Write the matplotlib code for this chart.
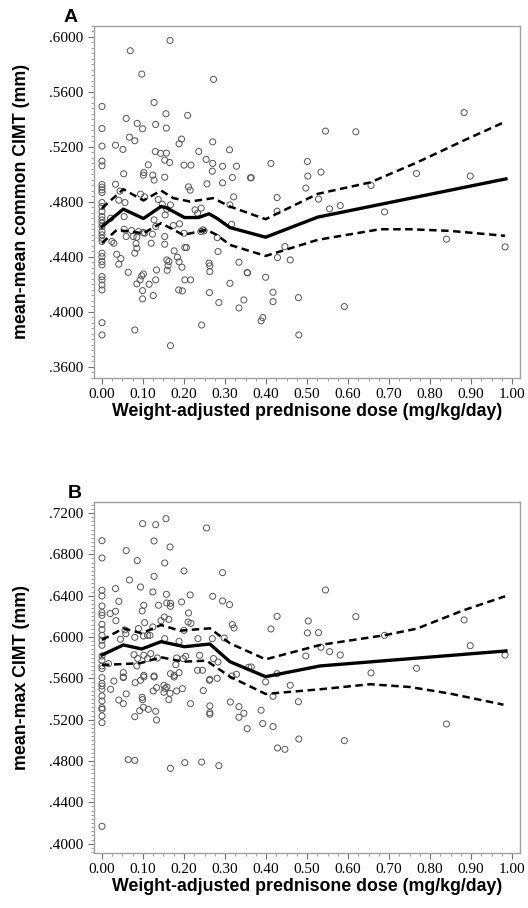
import numpy as np
import matplotlib
matplotlib.use('Agg')
import matplotlib.pyplot as plt
from matplotlib.ticker import FuncFormatter, AutoMinorLocator, MultipleLocator

# Panel A: mean-mean common CIMT, punkty (dawka, CIMT)
a_x = [0.883, 0.545, 0.619, 0.412, 0.501, 0.364, 0.534, 0.502, 0.767, 0.898,
       0.497, 0.427, 0.528, 0.656, 0.427, 0.555, 0.581, 0.689, 0.840, 0.983,
       0.446, 0.428, 0.459, 0.355, 0.399, 0.417, 0.417, 0.479, 0.591, 0.392,
       0.388, 0.480,
       0.166, 0.069, 0.097, 0.272, 0.0, 0.127, 0.059, 0.156, 0.209, 0.086,
       0.099, 0.131, 0.157, 0.0, 0.0, 0.033, 0.051, 0.067, 0.080, 0.188,
       0.194, 0.270, 0.130, 0.143, 0.157, 0.153, 0.165, 0.113, 0.200, 0.217,
       0.236, 0.254, 0.270, 0.269, 0.294, 0.311, 0.328, 0.0, 0.0, 0.053,
       0.102, 0.101, 0.124, 0.127, 0.153, 0.033, 0.0, 0.0, 0.0, 0.0,
       0.318, 0.362, 0.294, 0.256, 0.211, 0.215, 0.044, 0.094, 0.104, 0.137,
       0.041, 0.056, 0.321, 0.0, 0.147, 0.167, 0.312,
       0.0, 0.0, 0.0, 0.0, 0.0, 0.0, 0.0, 0.0, 0.0, 0.0,
       0.0, 0.0, 0.0, 0.0, 0.0, 0.0, 0.0, 0.0, 0.0, 0.0,
       0.021, 0.054, 0.024, 0.029, 0.054, 0.059, 0.072, 0.076, 0.085, 0.089,
       0.101, 0.104, 0.127, 0.131, 0.123, 0.120, 0.153, 0.153, 0.174, 0.189,
       0.200, 0.202, 0.206, 0.241, 0.249, 0.281, 0.316, 0.036, 0.046, 0.041,
       0.083, 0.085, 0.080, 0.064, 0.085, 0.093, 0.097, 0.101, 0.099, 0.099,
       0.115, 0.125, 0.131, 0.133, 0.158, 0.163, 0.161, 0.159, 0.176, 0.184,
       0.188, 0.195, 0.202, 0.216, 0.187, 0.196, 0.227, 0.233, 0.242, 0.246,
       0.261, 0.263, 0.263, 0.262, 0.283, 0.285, 0.312, 0.334, 0.334, 0.346,
       0.354, 0.243, 0.080, 0.167, 0.154, 0.158]
a_y = [0.5449, 0.5314, 0.5309, 0.5079, 0.5093, 0.4975, 0.5016, 0.4987, 0.5006, 0.4987,
       0.4900, 0.4831, 0.4820, 0.4919, 0.4732, 0.4749, 0.4773, 0.4727, 0.4529, 0.4473,
       0.4475, 0.4395, 0.4378, 0.4284, 0.4252, 0.4143, 0.4075, 0.4104, 0.4039, 0.3959,
       0.3935, 0.3833,
       0.5973, 0.5898, 0.5728, 0.5690, 0.5493, 0.5522, 0.5406, 0.5440, 0.5428, 0.5370,
       0.5331, 0.5362, 0.5336, 0.5333, 0.5205, 0.5212, 0.5181, 0.5270, 0.5244, 0.5222,
       0.5256, 0.5236, 0.5166, 0.5152, 0.5154, 0.5103, 0.5086, 0.5069, 0.5067, 0.5067,
       0.5166, 0.5108, 0.5079, 0.5023, 0.5059, 0.5178, 0.5059, 0.5096, 0.5062, 0.5004,
       0.5013, 0.4994, 0.4994, 0.4958, 0.4979, 0.4928, 0.4926, 0.4907, 0.4887, 0.4868,
       0.4977, 0.4975, 0.4938, 0.4931, 0.4909, 0.4885, 0.4878, 0.4856, 0.4836, 0.4817,
       0.4812, 0.4795, 0.4836, 0.4795, 0.4783, 0.4778, 0.4778,
       0.4766, 0.4730, 0.4693, 0.4669, 0.4645, 0.4621, 0.4584, 0.4560, 0.4536, 0.4512,
       0.4427, 0.4402, 0.4366, 0.4342, 0.4257, 0.4233, 0.4196, 0.4160, 0.3922, 0.3833,
       0.4681, 0.4693, 0.4512, 0.4499, 0.4601, 0.4548, 0.4592, 0.4548, 0.4543, 0.4584,
       0.4577, 0.4572, 0.4669, 0.4621, 0.4565, 0.4499, 0.4548, 0.4492, 0.4628, 0.4640,
       0.4572, 0.4468, 0.4468, 0.4584, 0.4589, 0.4540, 0.4637, 0.4419, 0.4388, 0.4347,
       0.4497, 0.4463, 0.4427, 0.4288, 0.4204, 0.4233, 0.4262, 0.4276, 0.4155, 0.4095,
       0.4201, 0.4119, 0.4233, 0.4305, 0.4378, 0.4366, 0.4337, 0.4303, 0.4444, 0.4398,
       0.4364, 0.4325, 0.4233, 0.4233, 0.4160, 0.4153, 0.4742, 0.4718, 0.4754, 0.4596,
       0.4354, 0.4335, 0.4293, 0.4141, 0.4439, 0.4068, 0.4208, 0.4361, 0.4029, 0.4087,
       0.4286, 0.3905, 0.3869, 0.3755, 0.4705, 0.4746]

# Panel A: krzywa dopasowania i przedziały ufności
a_fit_x = [0.0, 0.052, 0.101, 0.144, 0.158, 0.201, 0.235, 0.261, 0.280, 0.312, 0.399, 0.526, 0.985]
a_fit_y = [0.4620, 0.4747, 0.4679, 0.4766, 0.4756, 0.4686, 0.4686, 0.4713, 0.4681, 0.4613, 0.4543, 0.4689, 0.4967]
a_up_x = [0.0, 0.052, 0.101, 0.144, 0.174, 0.215, 0.271, 0.312, 0.399, 0.526, 0.654, 0.768, 0.881, 0.983]
a_up_y = [0.4754, 0.4892, 0.4810, 0.4882, 0.4827, 0.4802, 0.4827, 0.4766, 0.4674, 0.4858, 0.4941, 0.5086, 0.5244, 0.5382]
a_lo_x = [0.0, 0.036, 0.101, 0.144, 0.198, 0.255, 0.280, 0.312, 0.399, 0.526, 0.678, 0.751, 0.849, 0.983]
a_lo_y = [0.4500, 0.4596, 0.4572, 0.4645, 0.4560, 0.4596, 0.4560, 0.4487, 0.4407, 0.4524, 0.4601, 0.4601, 0.4589, 0.4553]

# Panel B: mean-max CIMT
b_x = [0.156, 0.099, 0.131, 0.255, 0.0, 0.127, 0.166, 0.059, 0.0, 0.086,
       0.153, 0.200, 0.294, 0.127, 0.067, 0.094, 0.033, 0.0, 0.0, 0.124,
       0.157, 0.215, 0.270, 0.041, 0.294, 0.311, 0.194, 0.0, 0.102, 0.138,
       0.158, 0.167, 0.167, 0.0, 0.0, 0.020, 0.033, 0.098, 0.211, 0.034,
       0.152, 0.144, 0.163, 0.210, 0.217, 0.104, 0.0, 0.0, 0.318, 0.322,
       0.089, 0.056, 0.124, 0.200, 0.0, 0.0, 0.0, 0.045, 0.058, 0.080,
       0.101, 0.111, 0.117, 0.153, 0.188, 0.234, 0.269, 0.298, 0.0, 0.0,
       0.0, 0.0, 0.016, 0.078, 0.087, 0.102, 0.119, 0.085, 0.111, 0.135,
       0.182, 0.198, 0.204, 0.238, 0.272, 0.283, 0.180, 0.233, 0.245, 0.263,
       0.052, 0.052, 0.102, 0.127, 0.167, 0.176, 0.188, 0.317, 0.328, 0.358,
       0.0, 0.0, 0.0, 0.0, 0.0, 0.0, 0.0, 0.0, 0.0, 0.0,
       0.029, 0.052, 0.021, 0.041, 0.052, 0.059, 0.081, 0.094, 0.102, 0.127,
       0.125, 0.133, 0.098, 0.099, 0.101, 0.113, 0.131, 0.080, 0.092, 0.133,
       0.151, 0.154, 0.158, 0.151, 0.166, 0.163, 0.176, 0.182, 0.196, 0.216,
       0.247, 0.262, 0.281, 0.263, 0.263, 0.263, 0.313, 0.334, 0.334, 0.346,
       0.354, 0.064, 0.080, 0.167, 0.202, 0.243, 0.285, 0.0,
       0.545, 0.427, 0.619, 0.412, 0.503, 0.501, 0.528, 0.883, 0.689, 0.534,
       0.555, 0.581, 0.898, 0.497, 0.983, 0.364, 0.767, 0.656, 0.427, 0.399,
       0.459, 0.417, 0.479, 0.388, 0.392, 0.417, 0.840, 0.480, 0.591, 0.428,
       0.446]
b_y = [0.7145, 0.7097, 0.7087, 0.7055, 0.6932, 0.6929, 0.6871, 0.6836, 0.6765, 0.6739,
       0.6716, 0.6639, 0.6623, 0.6587, 0.6552, 0.6484, 0.6468, 0.6452, 0.6397, 0.6436,
       0.6413, 0.6407, 0.6394, 0.6345, 0.6349, 0.6313, 0.6339, 0.6300, 0.6307, 0.6307,
       0.6329, 0.6326, 0.6297, 0.6236, 0.6210, 0.6226, 0.6249, 0.6252, 0.6232, 0.6158,
       0.6194, 0.6158, 0.6171, 0.6145, 0.6132, 0.6139, 0.6123, 0.6071, 0.6120, 0.6087,
       0.6081, 0.6068, 0.6097, 0.6065, 0.6016, 0.5968, 0.5920, 0.5978, 0.6032, 0.5997,
       0.6010, 0.6016, 0.6016, 0.5984, 0.5958, 0.5984, 0.5984, 0.5990, 0.5816, 0.5774,
       0.5720, 0.5694, 0.5742, 0.5829, 0.5791, 0.5823, 0.5839, 0.5720, 0.5791, 0.5797,
       0.5797, 0.5791, 0.5813, 0.5823, 0.5791, 0.5758, 0.5732, 0.5678, 0.5678, 0.5591,
       0.5655, 0.5613, 0.5629, 0.5623, 0.5645, 0.5629, 0.5655, 0.5623, 0.5639, 0.5707,
       0.5607, 0.5551, 0.5526, 0.5494, 0.5429, 0.5381, 0.5316, 0.5300, 0.5236, 0.5171,
       0.5574, 0.5607, 0.5494, 0.5390, 0.5355, 0.5449, 0.5558, 0.5581, 0.5613, 0.5613,
       0.5478, 0.5510, 0.5416, 0.5394, 0.5320, 0.5300, 0.5281, 0.5229, 0.5287, 0.5197,
       0.5532, 0.5500, 0.5516, 0.5465, 0.5455, 0.5394, 0.5613, 0.5478, 0.5500, 0.5355,
       0.5481, 0.5581, 0.5600, 0.5333, 0.5268, 0.5252, 0.5371, 0.5326, 0.5223, 0.5262,
       0.5113, 0.4813, 0.4806, 0.4729, 0.4784, 0.4790, 0.4755, 0.4168,
       0.6455, 0.6200, 0.6197, 0.6078, 0.6155, 0.6039, 0.6042, 0.6165, 0.6016, 0.5900,
       0.5858, 0.5826, 0.5916, 0.5816, 0.5826, 0.5710, 0.5697, 0.5652, 0.5645, 0.5565,
       0.5533, 0.5426, 0.5374, 0.5291, 0.5162, 0.5133, 0.5158, 0.5013, 0.4997, 0.4926,
       0.4913]

b_fit_x = [0.0, 0.052, 0.097, 0.144, 0.201, 0.263, 0.312, 0.399, 0.532, 0.985]
b_fit_y = [0.5826, 0.5923, 0.5884, 0.5955, 0.5906, 0.5932, 0.5761, 0.5616, 0.5720, 0.5865]
b_up_x = [0.0, 0.052, 0.097, 0.144, 0.190, 0.263, 0.312, 0.399, 0.532, 0.689, 0.768, 0.881, 0.983]
b_up_y = [0.5971, 0.6084, 0.6036, 0.6116, 0.6061, 0.6084, 0.5939, 0.5784, 0.5923, 0.6017, 0.6081, 0.6258, 0.6394]
b_lo_x = [0.0, 0.093, 0.144, 0.198, 0.255, 0.312, 0.399, 0.532, 0.654, 0.751, 0.849, 0.979]
b_lo_y = [0.5729, 0.5746, 0.5804, 0.5761, 0.5771, 0.5616, 0.5449, 0.5494, 0.5543, 0.5516, 0.5452, 0.5345]

x_ticks = [0.0, 0.1, 0.2, 0.3, 0.4, 0.5, 0.6, 0.7, 0.8, 0.9, 1.0]
a_ticks = [0.36, 0.40, 0.44, 0.48, 0.52, 0.56, 0.60]
b_ticks = [0.40, 0.44, 0.48, 0.52, 0.56, 0.60, 0.64, 0.68, 0.72]

serif = 'Liberation Serif'
sans = 'Liberation Sans'
frame = '#a0a0a0'

fig = plt.figure(figsize=(5.28, 9.08), dpi=100)
axA = fig.add_axes([0.178, 0.5837, 0.807, 0.388])
axB = fig.add_axes([0.178, 0.0606, 0.807, 0.3865])


def draw_panel(ax, xs, ys, fx, fy, ux, uy, lx, ly, yticks, ylim, ylabel, letter, letter_x):
    ax.scatter(xs, ys, s=19, facecolors='none', edgecolors='#555555', linewidths=0.7, zorder=2)
    ax.plot(fx, fy, color='black', lw=2.4, zorder=3)
    ax.plot(ux, uy, color='black', lw=1.8, dashes=(3, 1.8), zorder=3)
    ax.plot(lx, ly, color='black', lw=1.8, dashes=(3, 1.8), zorder=3)
    ax.set_xlim(-0.0195, 1.0195)
    ax.set_ylim(*ylim)
    ax.set_xticks(x_ticks)
    ax.set_yticks(yticks)
    ax.xaxis.set_major_formatter(FuncFormatter(lambda v, p: f'{v:.2f}'))
    ax.yaxis.set_major_formatter(FuncFormatter(lambda v, p: f'{v:.4f}'.lstrip('0')))
    ax.xaxis.set_minor_locator(MultipleLocator(0.025))
    ax.yaxis.set_minor_locator(AutoMinorLocator(10))
    for sp in ax.spines.values():
        sp.set_color(frame)
        sp.set_linewidth(1.0)
    ax.tick_params(which='major', length=4, width=0.8, color='#707070', direction='out')
    ax.tick_params(which='minor', length=2, width=0.6, color='#909090', direction='out')
    for lab in ax.get_xticklabels() + ax.get_yticklabels():
        lab.set_fontfamily(serif)
        lab.set_fontsize(11)
    ax.set_xlabel('Weight-adjusted prednisone dose (mg/kg/day)', fontfamily=sans,
                  fontweight='bold', fontsize=12.8, labelpad=1)
    ax.set_ylabel(ylabel, fontfamily=sans, fontweight='bold', fontsize=12.8, labelpad=14)
    ax.text(letter_x, 1.0, letter, transform=ax.transAxes, fontfamily=sans,
            fontweight='bold', fontsize=14, ha='center', va='bottom')


draw_panel(axA, a_x, a_y, a_fit_x, a_fit_y, a_up_x, a_up_y, a_lo_x, a_lo_y,
           a_ticks, (0.352, 0.608), 'mean-mean common CIMT (mm)', 'A', -0.056)
draw_panel(axB, b_x, b_y, b_fit_x, b_fit_y, b_up_x, b_up_y, b_lo_x, b_lo_y,
           b_ticks, (0.391, 0.7306), 'mean-max CIMT (mm)', 'B', -0.045)

fig.savefig('out.png', dpi=100)
